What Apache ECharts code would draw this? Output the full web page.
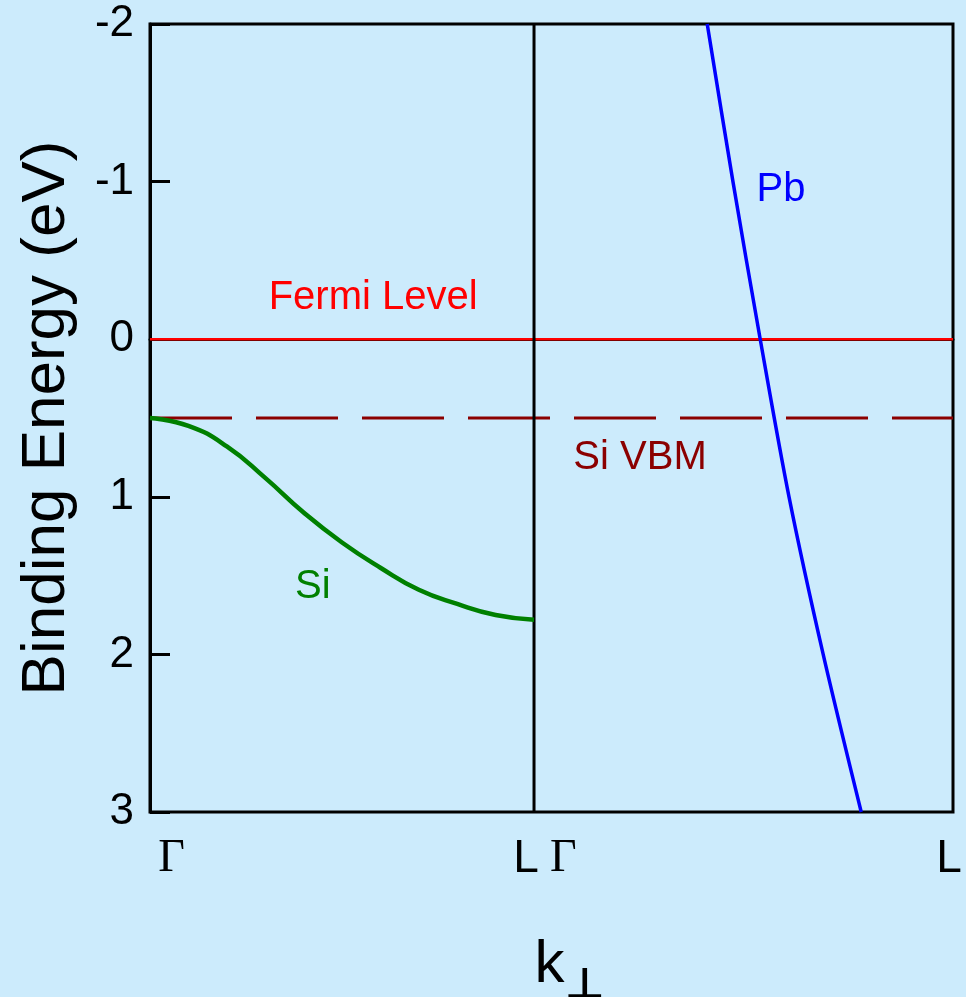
<!DOCTYPE html>
<html>
<head>
<meta charset="utf-8">
<script src="https://cdn.jsdelivr.net/npm/echarts@6/dist/echarts.min.js"></script>
<style>
  html, body { margin: 0; padding: 0; background: #ccebfc; }
  #main { width: 966px; height: 997px; }
</style>
</head>
<body>
<div id="main"></div>
<script>
// k along Γ-L (left panel 0..1) then Γ-L (right panel 1..2.09)
var kMax = 2.091;
var kLabelPos = [0.056, 0.979, 1.076, 2.081];
var kLabels = ['Γ', 'L', 'Γ', 'L'];

// Si band (binding energy, eV)
var siK = [0, 0.1, 0.2, 0.3, 0.4, 0.5, 0.6, 0.7, 0.8, 0.9, 1.0];
var siE = [0.50, 0.55, 0.68, 0.88, 1.10, 1.29, 1.45, 1.59, 1.68, 1.75, 1.78];

// Pb band
var pbK = [1.451, 1.518, 1.589, 1.664, 1.753, 1.852];
var pbE = [-2, -1, 0, 1, 2, 3];

var fermiLevel = 0;
var siVBM = 0.5;
var panelEdge = 1.0;

function pairs(xs, ys) {
  return xs.map(function (x, i) { return [x, ys[i]]; });
}

var font = '"Liberation Sans", Arial, sans-serif';

var myChart = echarts.init(document.getElementById('main'));
var option = {
  backgroundColor: '#ccebfc',
  animation: false,
  grid: {
    left: 150,
    right: 13,
    top: 24,
    bottom: 185,
    outerBoundsMode: 'none',
    containLabel: false,
    show: true,
    borderColor: '#000',
    borderWidth: 3,
    backgroundColor: 'transparent'
  },
  xAxis: {
    type: 'value',
    min: 0,
    max: kMax,
    splitLine: { show: false },
    axisTick: { show: false },
    axisLine: { show: true, lineStyle: { color: '#000', width: 3 } },
    axisLabel: {
      customValues: kLabelPos,
      margin: 24,
      formatter: function (v) {
        var i = kLabelPos.indexOf(v);
        var t = i >= 0 ? kLabels[i] : '';
        return t === 'Γ' ? '{g|' + t + '}' : '{l|' + t + '}';
      },
      rich: {
        g: { fontFamily: '"Liberation Serif", "Times New Roman", serif', fontSize: 46, color: '#000' },
        l: { fontFamily: font, fontSize: 46, color: '#000' }
      }
    },
    name: '{k|k}{s|⊥}',
    nameLocation: 'middle',
    nameGap: 108,
    nameTextStyle: {
      rich: {
        k: { fontFamily: font, fontSize: 60, color: '#000', padding: [0, 0, 0, 36] },
        s: { fontFamily: '"DejaVu Sans", sans-serif', fontSize: 44, fontWeight: 'bold', color: '#000', padding: [46, 0, 0, 0] }
      }
    }
  },
  yAxis: {
    type: 'value',
    inverse: true,
    min: -2,
    max: 3,
    interval: 1,
    splitLine: { show: false },
    axisLine: { show: true, lineStyle: { color: '#000', width: 3 } },
    axisTick: { show: true, inside: true, length: 20, lineStyle: { color: '#000', width: 3 } },
    axisLabel: {
      margin: 16,
      fontFamily: font,
      fontSize: 44,
      color: '#000',
      formatter: function (v) { return String(v); }
    },
    name: 'Binding Energy (eV)',
    nameLocation: 'middle',
    nameRotate: 90,
    nameGap: 72,
    nameTextStyle: { fontFamily: font, fontSize: 62, color: '#000' }
  },
  series: [
    {
      name: 'Fermi Level',
      type: 'line',
      data: [[0, fermiLevel], [kMax, fermiLevel]],
      symbol: 'none',
      lineStyle: { color: '#ff0000', width: 2.5 },
      markPoint: {
        symbol: 'circle', symbolSize: 1,
        itemStyle: { color: 'transparent' },
        label: { show: true, position: 'inside', formatter: 'Fermi Level', fontFamily: font, fontSize: 40, color: '#ff0000' },
        data: [{ coord: [0.581, -0.26] }]
      }
    },
    {
      name: 'Si VBM',
      type: 'line',
      data: [[0, siVBM], [kMax, siVBM]],
      symbol: 'none',
      lineStyle: { color: '#8b0000', width: 3, type: [82, 24] },
      markPoint: {
        symbol: 'circle', symbolSize: 1,
        itemStyle: { color: 'transparent' },
        label: { show: true, position: 'inside', formatter: 'Si VBM', fontFamily: font, fontSize: 40, color: '#8b0000' },
        data: [{ coord: [1.276, 0.755] }]
      }
    },
    {
      name: 'edge',
      type: 'line',
      data: [[panelEdge, -2], [panelEdge, 3]],
      symbol: 'none',
      lineStyle: { color: '#000', width: 3 }
    },
    {
      name: 'Si',
      type: 'line',
      data: pairs(siK, siE),
      smooth: 0.5,
      symbol: 'none',
      lineStyle: { color: '#008000', width: 4.5 },
      markPoint: {
        symbol: 'circle', symbolSize: 1,
        itemStyle: { color: 'transparent' },
        label: { show: true, position: 'inside', formatter: 'Si', fontFamily: font, fontSize: 40, color: '#008000' },
        data: [{ coord: [0.424, 1.574] }]
      }
    },
    {
      name: 'Pb',
      type: 'line',
      data: pairs(pbK, pbE),
      smooth: 0.3,
      symbol: 'none',
      lineStyle: { color: '#0000ff', width: 3.5 },
      markPoint: {
        symbol: 'circle', symbolSize: 1,
        itemStyle: { color: 'transparent' },
        label: { show: true, position: 'inside', formatter: 'Pb', fontFamily: font, fontSize: 40, color: '#0000ff' },
        data: [{ coord: [1.643, -0.945] }]
      }
    }
  ]
};
myChart.setOption(option);
</script>
</body>
</html>
